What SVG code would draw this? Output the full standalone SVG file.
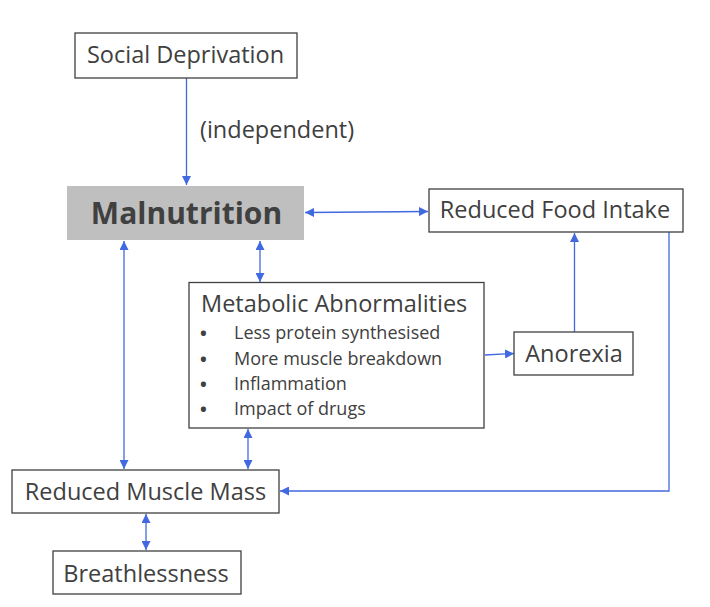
<svg xmlns="http://www.w3.org/2000/svg" width="710" height="607" viewBox="0 0 710 607">
<defs>
<marker id="ah" viewBox="0 0 10 10" refX="10" refY="5" markerWidth="9" markerHeight="9" markerUnits="userSpaceOnUse" orient="auto-start-reverse">
<path d="M0,0 L10,5 L0,10 z" fill="#4169E1"/>
</marker>
<style>
.box{fill:#fff;stroke:#404040;stroke-width:1.3}
.t{font-family:"Open Sans","Noto Sans",sans-serif;font-size:23.5px;fill:#404040}
.m{font-family:"Open Sans","Noto Sans",sans-serif;font-size:30px;font-weight:bold;fill:#404040}
.s{font-family:"Open Sans","Noto Sans",sans-serif;font-size:18px;fill:#404040}
.u{font-family:"Open Sans","Noto Sans",sans-serif;font-size:18px;font-weight:bold;fill:#404040}
.c{fill:none;stroke:#4169E1;stroke-width:1.3}
.e{marker-end:url(#ah)}
.b{marker-start:url(#ah);marker-end:url(#ah)}
</style>
</defs>
<rect width="710" height="607" fill="#fff"/>
<g id="connectors">
<path class="c e" d="M186.5,78 L186.5,185"/>
<path class="c b" d="M305,212.5 L428,211.5"/>
<path class="c b" d="M124,241 L124,469"/>
<path class="c b" d="M260,241 L260,282"/>
<path class="c b" d="M248,429 L248,469"/>
<path class="c e" d="M485,355 L514,353.5"/>
<path class="c e" d="M574.5,332 L574.5,233"/>
<path class="c e" d="M669,232 L669,491 L280,491"/>
<path class="c b" d="M146,514 L146,550"/>
<text class="t" x="200" y="138">(independent)</text>
</g>
<g id="social-deprivation">
<rect class="box" x="75" y="33" width="222" height="45"/>
<text class="t" x="185.5" y="63" text-anchor="middle">Social Deprivation</text>
</g>
<g id="malnutrition">
<rect x="67" y="186" width="237" height="54" fill="#BFBFBF"/>
<text class="m" x="186.5" y="224" text-anchor="middle">Malnutrition</text>
</g>
<g id="reduced-food-intake">
<rect class="box" x="429" y="189" width="254" height="43"/>
<text class="t" x="555" y="218" text-anchor="middle">Reduced Food Intake</text>
</g>
<g id="metabolic-abnormalities">
<rect class="box" x="189" y="282.5" width="295" height="145.5"/>
<text class="t" x="201" y="311.5">Metabolic Abnormalities</text>
<text class="u" x="200" y="340">•</text>
<text class="s" x="234" y="339">Less protein synthesised</text>
<text class="u" x="200" y="366">•</text>
<text class="s" x="234" y="365">More muscle breakdown</text>
<text class="u" x="200" y="391">•</text>
<text class="s" x="234" y="390">Inflammation</text>
<text class="u" x="200" y="416">•</text>
<text class="s" x="234" y="415">Impact of drugs</text>
</g>
<g id="anorexia">
<rect class="box" x="514" y="332" width="119" height="43"/>
<text class="t" x="574" y="362" text-anchor="middle">Anorexia</text>
</g>
<g id="reduced-muscle-mass">
<rect class="box" x="12" y="470" width="267" height="43"/>
<text class="t" x="145.5" y="500" text-anchor="middle">Reduced Muscle Mass</text>
</g>
<g id="breathlessness">
<rect class="box" x="53" y="551" width="188" height="43"/>
<text class="t" x="146" y="582" text-anchor="middle">Breathlessness</text>
</g>
</svg>
